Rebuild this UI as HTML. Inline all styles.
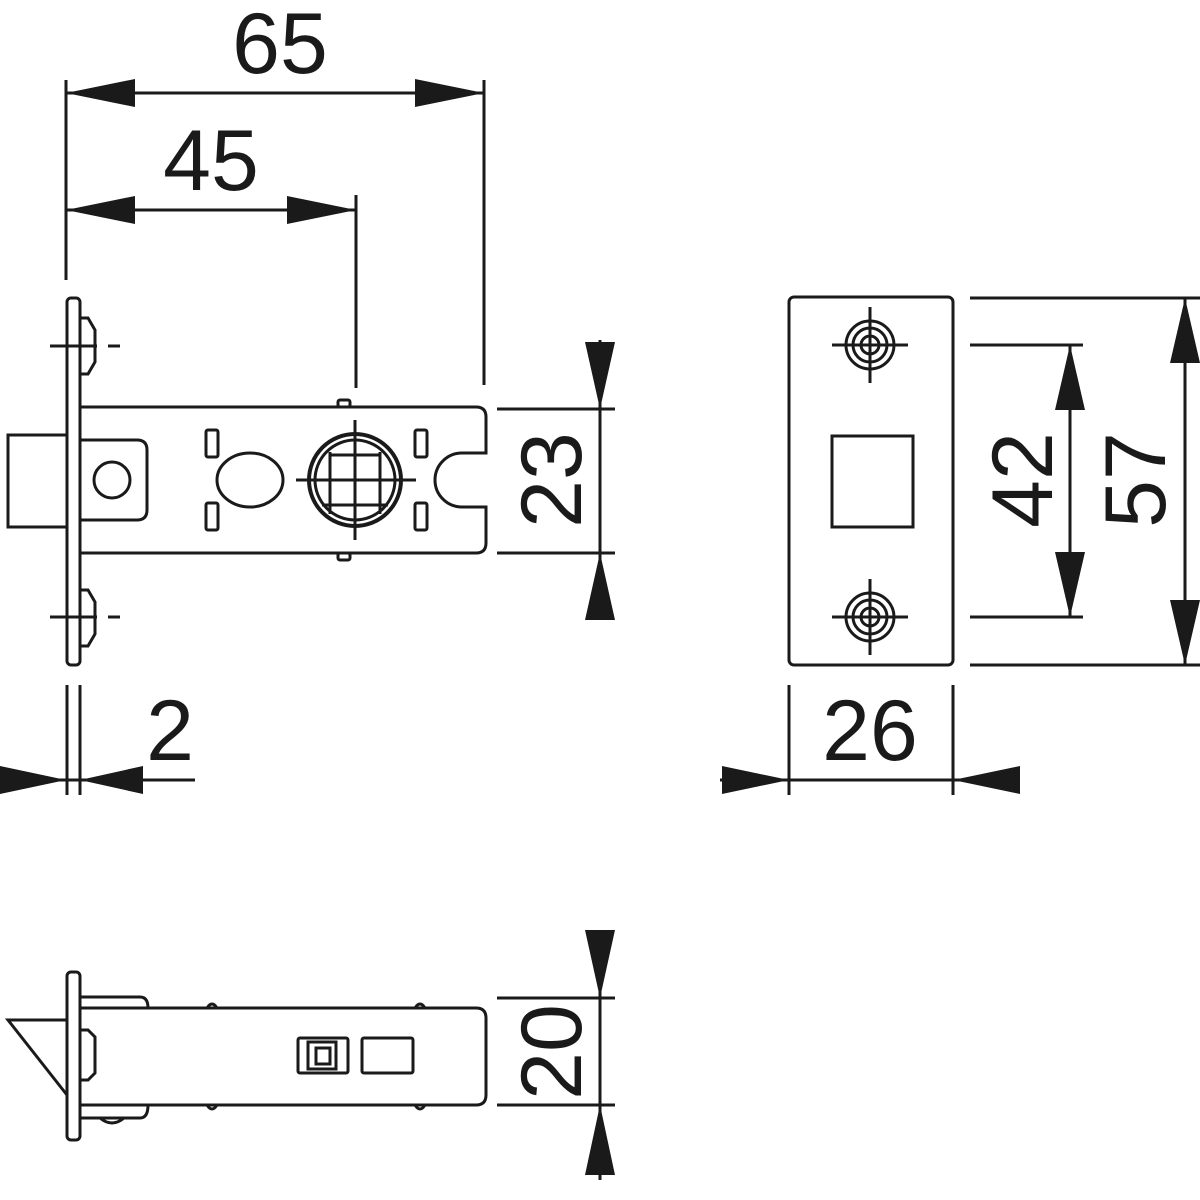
<!DOCTYPE html>
<html><head><meta charset="utf-8"><style>html,body{margin:0;padding:0;background:#fff}svg{display:block}text{font-family:"Liberation Sans",sans-serif;fill:#1a1a1a}</style></head>
<body>
<svg width="1200" height="1200" viewBox="0 0 1200 1200" xmlns="http://www.w3.org/2000/svg">
<g stroke="#1a1a1a" stroke-width="3" fill="none">
<!-- top dims -->
<line x1="66" y1="80" x2="66" y2="280"/><line x1="484" y1="80" x2="484" y2="385"/>
<line x1="66" y1="93" x2="484" y2="93"/>
<line x1="356" y1="195" x2="356" y2="388"/>
<line x1="66" y1="210" x2="356" y2="210"/>
<!-- faceplate -->
<rect x="67" y="298" width="13" height="367" rx="4"/>
<path d="M80 318 h8 l7 12 v32 l-7 12 h-8"/>
<path d="M80 590 h8 l7 12 v32 l-7 12 h-8"/>
<line x1="50" y1="346" x2="97" y2="346"/><line x1="108" y1="346" x2="120" y2="346"/>
<line x1="50" y1="617" x2="97" y2="617"/><line x1="108" y1="617" x2="120" y2="617"/>
<!-- bolt -->
<polyline points="67,435 8,435 8,527 67,527"/>
<!-- body -->
<path d="M80 407 H476 Q486 407 486 417 V453 H462 A27 27 0 0 0 462 507 H486 V543 Q486 553 476 553 H80"/>
<path d="M80 440 H137 Q147 440 147 450 V510 Q147 520 137 520 H80"/>
<circle cx="112" cy="480" r="18"/>
<ellipse cx="250" cy="480" rx="33" ry="27"/>
<rect x="206" y="430" width="12" height="27" rx="2"/><rect x="206" y="503" width="12" height="27" rx="2"/>
<rect x="415" y="430" width="12" height="27" rx="2"/><rect x="415" y="503" width="12" height="27" rx="2"/>
<rect x="338" y="400" width="12" height="7" rx="2"/><rect x="338" y="553" width="12" height="7" rx="2"/>
<circle cx="355" cy="480" r="46" stroke-width="4"/><circle cx="355" cy="480" r="40"/>
<line x1="296" y1="480" x2="416" y2="480"/><line x1="355" y1="420" x2="355" y2="540"/>
<line x1="330" y1="455" x2="380" y2="455"/><line x1="322" y1="505" x2="388" y2="505"/>
<line x1="330" y1="452" x2="330" y2="514"/><line x1="380" y1="452" x2="380" y2="514"/>
<!-- 23 dim -->
<line x1="497" y1="409" x2="615" y2="409"/><line x1="497" y1="553" x2="615" y2="553"/>
<line x1="600" y1="340" x2="600" y2="620"/>
<!-- 2 dim -->
<line x1="67" y1="685" x2="67" y2="795"/><line x1="80" y1="685" x2="80" y2="795"/>
<line x1="0" y1="780" x2="195" y2="780"/>
<!-- strike -->
<rect x="789" y="297" width="164" height="368" rx="5"/>
<rect x="832" y="436" width="81" height="91"/>
<g id="sc"><circle cx="870" cy="345" r="24"/><circle cx="870" cy="345" r="17"/><circle cx="870" cy="345" r="9"/><line x1="832" y1="345" x2="908" y2="345"/><line x1="870" y1="307" x2="870" y2="383"/></g>
<g><circle cx="870" cy="617" r="24"/><circle cx="870" cy="617" r="17"/><circle cx="870" cy="617" r="9"/><line x1="832" y1="617" x2="908" y2="617"/><line x1="870" y1="579" x2="870" y2="655"/></g>
<line x1="970" y1="298" x2="1200" y2="298"/><line x1="970" y1="665" x2="1200" y2="665"/>
<line x1="970" y1="345" x2="1083" y2="345"/><line x1="970" y1="617" x2="1083" y2="617"/>
<line x1="1070" y1="345" x2="1070" y2="617"/><line x1="1185" y1="298" x2="1185" y2="665"/>
<line x1="789" y1="685" x2="789" y2="795"/><line x1="953" y1="685" x2="953" y2="795"/>
<line x1="720" y1="780" x2="1020" y2="780"/>
<!-- bottom view -->
<rect x="67" y="972" width="13" height="168" rx="4"/>
<polyline points="67,1020 8,1020 67,1095"/>
<path d="M80 1030 h8 l7 7 v36 l-7 7 h-8"/>
<path d="M80 997 H140 Q148 997 148 1008"/>
<path d="M80 1118 H140 Q148 1118 148 1105"/>
<path d="M100 1118 Q112 1128 124 1118"/>
<path d="M80 1008 H476 Q486 1008 486 1018 V1095 Q486 1105 476 1105 H80"/>
<path d="M207 1008 q5 -8 10 0"/><path d="M415 1008 q5 -8 10 0"/>
<path d="M207 1105 q5 8 10 0"/><path d="M415 1105 q5 8 10 0"/>
<rect x="298" y="1038" width="50" height="35" rx="2"/><rect x="308" y="1042" width="28" height="27"/><rect x="316" y="1048" width="14" height="16"/>
<rect x="362" y="1038" width="51" height="35" rx="2"/>
<line x1="497" y1="998" x2="615" y2="998"/><line x1="497" y1="1105" x2="615" y2="1105"/>
<line x1="600" y1="930" x2="600" y2="1180"/>
</g>
<g fill="#1a1a1a">
<polygon points="66,93 135,79 135,107"/><polygon points="484,93 415,79 415,107"/>
<polygon points="66,210 135,196 135,224"/><polygon points="356,210 287,196 287,224"/>
<polygon points="600,409 585,342 615,342"/><polygon points="600,553 585,620 615,620"/>
<polygon points="66,780 0,766 0,794"/><polygon points="80,780 143,766 143,794"/>
<polygon points="1070,345 1055,410 1085,410"/><polygon points="1070,617 1055,552 1085,552"/>
<polygon points="1185,298 1170,363 1200,363"/><polygon points="1185,665 1170,600 1200,600"/>
<polygon points="789,780 722,766 722,794"/><polygon points="953,780 1020,766 1020,794"/>
<polygon points="600,998 585,930 615,930"/><polygon points="600,1105 585,1175 615,1175"/>
</g>
<g font-size="86" text-anchor="middle">
<text x="280" y="73">65</text>
<text x="211" y="190">45</text>
<text x="170" y="760">2</text>
<text x="870" y="760">26</text>
<text transform="translate(581,480) rotate(-90)">23</text>
<text transform="translate(1052,480) rotate(-90)">42</text>
<text transform="translate(1165,480) rotate(-90)">57</text>
<text transform="translate(581,1052) rotate(-90)">20</text>
</g>
</svg>
</body></html>
